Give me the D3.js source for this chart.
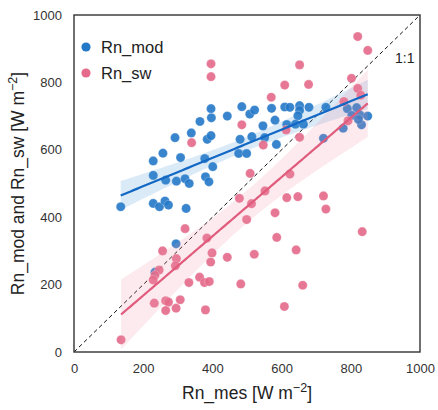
<!DOCTYPE html>
<html><head><meta charset="utf-8">
<script src="https://cdn.jsdelivr.net/npm/d3@7"></script>
<style>body{margin:0;background:#fff}svg{display:block}</style>
</head><body>
<svg id="c" width="438" height="410"></svg>
<script>
const seriesNames = ["Rn_mod", "Rn_sw"];
const xTicks = [0, 200, 400, 600, 800, 1000];
const yTicks = [0, 200, 400, 600, 800, 1000];
// [Rn_mes, Rn_mod]
const rnMod = [
[135,431],[229,441],[247,431],[263,448],[273,436],[324,426],[295,321],[234,237],
[229,524],[229,567],[257,590],[265,510],[296,507],[292,636],[308,577],[321,514],
[333,500],[339,650],[364,684],[378,574],[380,520],[390,505],[385,631],[396,642],
[396,722],[397,695],[401,550],[443,700],[485,728],[508,706],[522,718],[480,631],
[476,589],[499,589],[514,639],[546,671],[571,723],[609,727],[624,726],[652,731],
[679,726],[652,717],[647,701],[581,688],[551,636],[585,616],[615,675],[640,676],
[663,676],[728,726],[721,634],[790,722],[817,725],[827,703],[803,702],[849,700],
[778,664],[831,674],[822,690]
];
// [Rn_mes, Rn_sw]
const rnSw = [
[136,36],[232,145],[265,152],[273,148],[265,123],[295,130],[307,155],[256,300],
[296,277],[293,256],[246,243],[234,228],[229,214],[321,366],[332,206],[363,222],
[377,206],[391,209],[380,125],[384,338],[399,294],[395,267],[443,281],[482,202],
[499,393],[478,456],[513,440],[509,530],[552,478],[547,614],[521,290],[581,413],
[586,340],[615,458],[647,461],[624,528],[642,303],[661,198],[608,135],[721,463],
[728,424],[833,357],[340,621],[396,855],[396,817],[485,674],[570,756],[609,792],
[678,794],[652,852],[613,659],[652,637],[780,743],[792,686],[802,812],[820,782],
[829,762],[820,936],[849,895]
];

const colors = {pt:["#2378c8","#e4698a"], line:["#1268c4","#e05b7c"], band:["#3a88d0","#ec8aa2"]};
const svg = d3.select("#c");
const L=74, R=420, T=15, B=352;
const x = d3.scaleLinear().domain([0,1000]).range([L,R]);
const y = d3.scaleLinear().domain([0,1000]).range([B,T]);
const font = "Liberation Sans, Arial, sans-serif";

function fit(data){
  const n=data.length, mx=d3.mean(data,d=>d[0]), my=d3.mean(data,d=>d[1]);
  let sxx=0, sxy=0; data.forEach(d=>{sxx+=(d[0]-mx)**2; sxy+=(d[0]-mx)*(d[1]-my);});
  const b=sxy/sxx, a=my-b*mx;
  let sse=0; data.forEach(d=>{sse+=(d[1]-a-b*d[0])**2;});
  const s=Math.sqrt(sse/(n-2)), t=2.0;
  const [x0,x1]=d3.extent(data,d=>d[0]);
  const pts=d3.range(0,101).map(i=>{const xv=x0+(x1-x0)*i/100; const yv=a+b*xv;
    const h=t*s*Math.sqrt(1/n+(xv-mx)**2/sxx); return {x:xv,y:yv,lo:yv-h,hi:yv+h};});
  return pts;
}
const sets=[rnMod,rnSw];
const fits=sets.map(fit);

// 1:1 line
svg.append("line").attr("x1",x(0)).attr("y1",y(0)).attr("x2",x(1000)).attr("y2",y(1000))
  .attr("stroke","#111").attr("stroke-width",1).attr("stroke-dasharray","4,3");

sets.forEach((data,i)=>{
  svg.append("g").selectAll("circle").data(data).join("circle")
    .attr("cx",d=>x(d[0])).attr("cy",d=>y(d[1])).attr("r",4.6)
    .attr("fill",colors.pt[i]).attr("fill-opacity",0.9)
    .attr("stroke","#fff").attr("stroke-opacity",0.5).attr("stroke-width",0.5);
  svg.append("path").datum(fits[i])
    .attr("d",d3.area().x(d=>x(d.x)).y0(d=>y(d.lo)).y1(d=>y(d.hi)))
    .attr("fill",colors.band[i]).attr("fill-opacity",0.18);
});
fits.forEach((f,i)=>{
  svg.append("path").datum(f).attr("d",d3.line().x(d=>x(d.x)).y(d=>y(d.y)))
    .attr("fill","none").attr("stroke",colors.line[i]).attr("stroke-width",2.2);
});

// frame
svg.append("rect").attr("x",L).attr("y",T).attr("width",R-L).attr("height",B-T)
  .attr("fill","none").attr("stroke","#333").attr("stroke-width",1.4);

// axes
const xa=svg.append("g").attr("transform",`translate(0,${B})`)
  .call(d3.axisBottom(x).tickValues(xTicks).tickSize(0).tickPadding(12).tickFormat(d3.format("d")));
const ya=svg.append("g").attr("transform",`translate(${L},0)`)
  .call(d3.axisLeft(y).tickValues(yTicks).tickSize(0).tickPadding(12).tickFormat(d3.format("d")));
[xa,ya].forEach(a=>{a.select(".domain").remove();
  a.selectAll("text").attr("font-family",font).attr("font-size",13).attr("fill","#333");});

// labels
const xl=svg.append("text").attr("x",(L+R)/2).attr("y",399).attr("text-anchor","middle")
  .attr("font-family",font).attr("font-size",17.5).attr("fill","#222");
xl.append("tspan").text("Rn_mes [W m");
xl.append("tspan").attr("dy",-7).attr("font-size",12.5).text("−2");
xl.append("tspan").attr("dy",7).text("]");

const yl=svg.append("text").attr("transform",`translate(24,${(T+B)/2}) rotate(-90)`)
  .attr("text-anchor","middle").attr("font-family",font).attr("font-size",17.5).attr("fill","#222");
yl.append("tspan").text("Rn_mod and Rn_sw [W m");
yl.append("tspan").attr("dy",-7).attr("font-size",12.5).text("−2");
yl.append("tspan").attr("dy",7).text("]");

svg.append("text").attr("x",395).attr("y",63).attr("font-family",font).attr("font-size",14)
  .attr("fill","#222").text("1:1");

// legend
seriesNames.forEach((nm,i)=>{
  const yy=47+i*26;
  svg.append("circle").attr("cx",86).attr("cy",yy).attr("r",4.6).attr("fill",colors.pt[i]);
  svg.append("text").attr("x",101).attr("y",yy+6).attr("font-family",font).attr("font-size",16.5)
    .attr("fill","#222").text(nm);
});
</script>
</body></html>
